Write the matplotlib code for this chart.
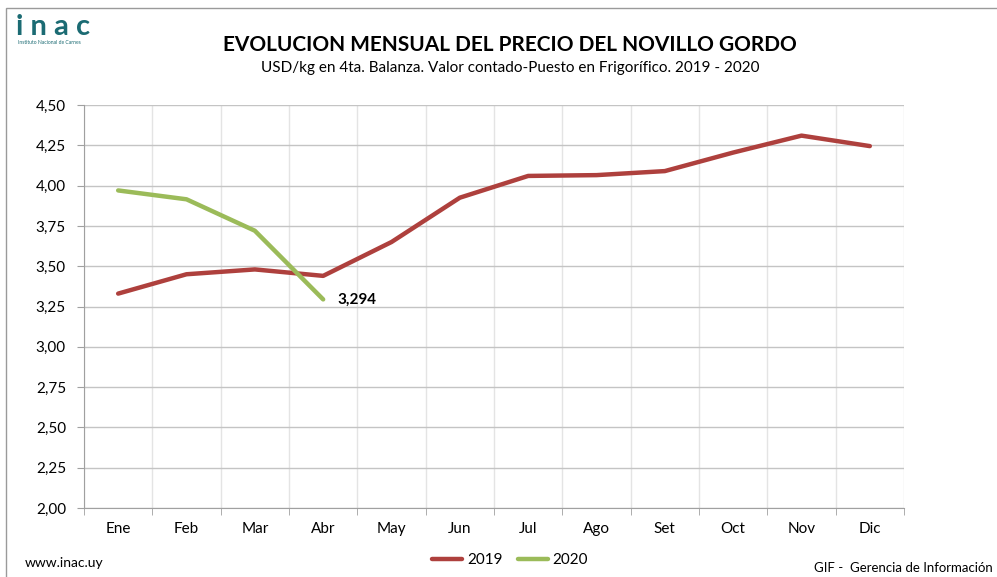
import matplotlib.pyplot as plt
from matplotlib.patches import Rectangle
import numpy as np

plt.rcParams['font.family'] = ['Lato', 'DejaVu Sans']

months = ['Ene', 'Feb', 'Mar', 'Abr', 'May', 'Jun', 'Jul', 'Ago', 'Set', 'Oct', 'Nov', 'Dic']
precio_2019 = [3.33, 3.45, 3.48, 3.44, 3.65, 3.925, 4.06, 4.065, 4.09, 4.205, 4.31, 4.245]
precio_2020 = [3.97, 3.915, 3.72, 3.294]
yticks = [2.00, 2.25, 2.50, 2.75, 3.00, 3.25, 3.50, 3.75, 4.00, 4.25, 4.50]

red = '#AE403D'
green = '#9BBB59'

fig = plt.figure(figsize=(9.97, 5.77), dpi=100)
ax = fig.add_axes([84 / 997, 1 - 508 / 577, 820 / 997, 403 / 577])

x = np.arange(len(months))
ax.plot(x, precio_2019, color=red, lw=3.2, solid_capstyle='round', label='2019', zorder=3)
ax.plot(x[:len(precio_2020)], precio_2020, color=green, lw=3.2, solid_capstyle='round',
        label='2020', zorder=4)

ax.annotate('3,294', (x[len(precio_2020) - 1], precio_2020[-1]), xytext=(10, 0),
            textcoords='offset points', fontsize=11, fontweight='bold', va='center')

ax.set_xlim(-0.5, 11.5)
ax.set_ylim(2.0, 4.5)
ax.set_yticks(yticks)
ax.set_yticklabels([f'{v:.2f}'.replace('.', ',') for v in yticks], fontsize=11)
ax.set_xticks(x)
ax.set_xticklabels(months, fontsize=11)
ax.set_xticks(np.arange(-0.5, 12, 1), minor=True)
ax.tick_params(axis='x', which='major', length=0, pad=10)
ax.tick_params(axis='x', which='minor', length=5, color='#a0a0a0')
ax.tick_params(axis='y', length=5, color='#a0a0a0', pad=8)

ax.grid(axis='y', color='#c4c4c4', lw=1)
ax.grid(axis='x', which='minor', color='#e4e4e4', lw=1)
ax.set_axisbelow(True)
for side in ['top', 'right']:
    ax.spines[side].set_visible(False)
for side in ['left', 'bottom']:
    ax.spines[side].set_color('#a0a0a0')

# titles
fig.text(510 / 997, 1 - 45 / 577, 'EVOLUCION MENSUAL DEL PRECIO DEL NOVILLO GORDO',
         ha='center', va='center', fontsize=15, fontweight='bold')
fig.text(510 / 997, 1 - 68 / 577,
         'USD/kg en 4ta. Balanza. Valor contado-Puesto en Frigorífico. 2019 - 2020',
         ha='center', va='center', fontsize=11)

# logo
fig.text(16 / 997, 1 - 35 / 577, 'i n a c', ha='left', va='baseline', fontsize=21,
         fontweight='bold', color='#1B6B73')
fig.text(18 / 997, 1 - 43 / 577, 'Instituto Nacional de Carnes', ha='left', va='center',
         fontsize=3.6, color='#1B6B73')

# footer
fig.text(25 / 997, 1 - 563 / 577, 'www.inac.uy', ha='left', va='center', fontsize=10)
fig.text(993 / 997, 1 - 568 / 577, 'GIF -  Gerencia de Información', ha='right',
         va='center', fontsize=9.5)
fig.legend(loc='center', bbox_to_anchor=(510 / 997, 1 - 560 / 577), ncol=2, frameon=False,
           fontsize=11, handlelength=2.0, handletextpad=0.3, columnspacing=1.0)

# outer border
fig.patches.append(Rectangle((6 / 997, -0.1), 1.2, 1 - 8 / 577 + 0.1,
                             transform=fig.transFigure, fill=False,
                             edgecolor='#9a9a9a', lw=1))

fig.savefig('out.png', dpi=100)
